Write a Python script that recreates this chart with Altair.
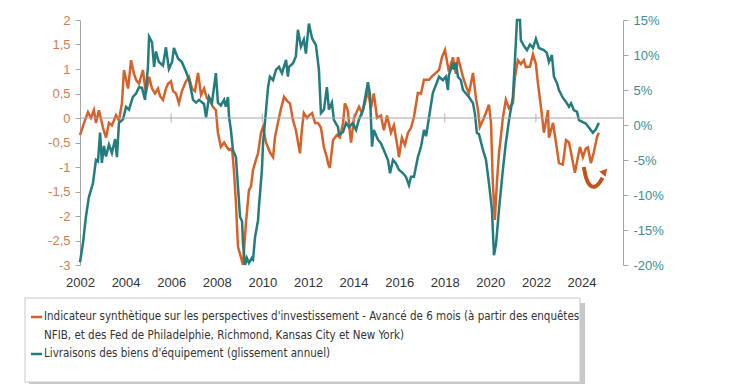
import altair as alt
import pandas as pd

# ---------------- data ----------------
# Orange: composite indicator of investment intentions (left axis), advanced 6 months
o_years = [
    2002.00, 2002.18, 2002.35, 2002.48, 2002.61, 2002.70, 2002.83, 2003.01, 2003.14, 2003.27,
    2003.40, 2003.58, 2003.71, 2003.84, 2003.93, 2004.11, 2004.24, 2004.37, 2004.46, 2004.59,
    2004.76, 2004.89, 2005.03, 2005.16, 2005.29, 2005.42, 2005.51, 2005.64, 2005.77, 2005.86,
    2005.99, 2006.08, 2006.21, 2006.34, 2006.47, 2006.65, 2006.78, 2006.91, 2007.04, 2007.18,
    2007.31, 2007.44, 2007.57, 2007.70, 2007.83, 2007.96, 2008.05, 2008.18, 2008.32, 2008.45,
    2008.54, 2008.67, 2008.75, 2008.84, 2008.93, 2009.06, 2009.15, 2009.28, 2009.41, 2009.50,
    2009.59, 2009.72, 2009.81, 2009.94, 2010.03, 2010.16, 2010.33, 2010.47, 2010.55, 2010.68,
    2010.82, 2010.95, 2011.08, 2011.21, 2011.34, 2011.47, 2011.65, 2011.74, 2011.82, 2011.96,
    2012.04, 2012.18, 2012.31, 2012.44, 2012.57, 2012.70, 2012.83, 2012.88, 2012.96, 2013.10,
    2013.27, 2013.40, 2013.54, 2013.62, 2013.75, 2013.84, 2013.89, 2014.02, 2014.24, 2014.37,
    2014.50, 2014.63, 2014.76, 2014.89, 2015.03, 2015.20, 2015.33, 2015.47, 2015.64, 2015.77,
    2015.95, 2015.99, 2016.12, 2016.25, 2016.39, 2016.52, 2016.65, 2016.82, 2016.96, 2017.09,
    2017.31, 2017.44, 2017.61, 2017.75, 2017.88, 2018.01, 2018.18, 2018.36, 2018.49, 2018.58,
    2018.80, 2018.93, 2019.06, 2019.24, 2019.37, 2019.46, 2019.54, 2019.72, 2019.94, 2020.03,
    2020.11, 2020.20, 2020.29, 2020.38, 2020.55, 2020.68, 2020.82, 2020.99, 2021.08, 2021.21,
    2021.34, 2021.47, 2021.56, 2021.74, 2021.87, 2022.00, 2022.09, 2022.22, 2022.35, 2022.53,
    2022.57, 2022.75, 2022.88, 2023.01, 2023.18, 2023.32, 2023.45, 2023.58, 2023.71, 2023.84,
    2023.93, 2024.06, 2024.19, 2024.28, 2024.41, 2024.54, 2024.68, 2024.76,
]
o_vals = [
    -0.35, -0.10, 0.12, 0.00, 0.16, -0.10, 0.16, -0.20, -0.40, -0.10,
    -0.15, 0.06, -0.05, 0.30, 0.98, 0.60, 1.18, 0.90, 0.78, 0.70,
    0.98, 0.50, 0.84, 0.60, 0.50, 0.60, 0.45, 0.37, 0.60, 0.70,
    0.75, 0.55, 0.50, 0.30, 0.55, 0.75, 0.84, 0.60, 0.55, 0.92,
    0.47, 0.60, 0.40, 0.35, 0.23, 0.16, -0.30, -0.59, -0.50, -0.60,
    -0.65, -0.62, -1.06, -1.73, -2.63, -2.84, -3.00, -2.14, -1.47, -1.40,
    -1.06, -0.85, -0.72, -0.30, -0.18, -0.50, -0.70, -0.80, -0.40, -0.10,
    0.20, 0.43, 0.35, 0.30, -0.04, -0.25, -0.72, -0.20, 0.10, 0.00,
    0.05, 0.10, -0.10, -0.10, -0.20, -0.60, -0.80, -0.92, -1.02, -0.45,
    -0.35, -0.40, -0.10, 0.30, 0.15, -0.30, -0.50, 0.00, 0.23, 0.10,
    0.30, 0.57, 0.20, 0.50, 0.00, 0.05, -0.25, 0.05, -0.30, -0.15,
    -0.65, -0.80, -0.40, -0.55, -0.30, -0.20, 0.02, 0.51, 0.50, 0.78,
    0.78, 0.85, 0.92, 0.98, 1.24, 1.39, 0.95, 1.24, 0.90, 1.24,
    0.84, 0.65, 0.50, 0.92, 0.40, 0.16, -0.18, 0.00, 0.27, -0.10,
    -1.33, -2.08, -1.30, -0.72, 0.00, 0.37, 0.20, 0.30, 0.84, 1.18,
    1.10, 1.18, 1.04, 1.05, 1.30, 1.10, 0.70, 0.23, -0.30, 0.16,
    -0.40, -0.10, -0.50, -0.92, -0.95, -0.45, -0.50, -0.80, -1.12, -0.80,
    -0.59, -0.80, -0.62, -0.60, -0.92, -0.70, -0.39, -0.30,
]

# Teal: capital goods shipments, % y/y (right axis)
t_years = [
    2002.00, 2002.13, 2002.26, 2002.39, 2002.57, 2002.70, 2002.79, 2002.88, 2002.96, 2003.05,
    2003.14, 2003.27, 2003.40, 2003.54, 2003.62, 2003.71, 2003.89, 2004.02, 2004.15, 2004.32,
    2004.46, 2004.59, 2004.72, 2004.85, 2004.98, 2005.03, 2005.16, 2005.25, 2005.33, 2005.46,
    2005.64, 2005.77, 2005.90, 2006.04, 2006.12, 2006.30, 2006.47, 2006.65, 2006.78, 2006.96,
    2007.09, 2007.22, 2007.44, 2007.53, 2007.66, 2007.79, 2007.96, 2008.05, 2008.18, 2008.32,
    2008.40, 2008.49, 2008.54, 2008.62, 2008.71, 2008.84, 2008.97, 2009.02, 2009.11, 2009.15,
    2009.24, 2009.32, 2009.41, 2009.54, 2009.59, 2009.68, 2009.81, 2009.85, 2009.98, 2010.03,
    2010.16, 2010.25, 2010.33, 2010.47, 2010.60, 2010.73, 2010.86, 2011.04, 2011.12, 2011.17,
    2011.34, 2011.47, 2011.56, 2011.69, 2011.82, 2011.91, 2012.04, 2012.18, 2012.26, 2012.35,
    2012.48, 2012.57, 2012.70, 2012.83, 2012.92, 2013.05, 2013.14, 2013.32, 2013.36, 2013.54,
    2013.67, 2013.80, 2013.97, 2014.11, 2014.24, 2014.41, 2014.63, 2014.72, 2014.81, 2014.89,
    2015.07, 2015.20, 2015.33, 2015.51, 2015.60, 2015.73, 2015.86, 2015.99, 2016.17, 2016.30,
    2016.43, 2016.52, 2016.65, 2016.82, 2016.96, 2017.09, 2017.18, 2017.31, 2017.48, 2017.66,
    2017.75, 2017.92, 2018.05, 2018.14, 2018.18, 2018.36, 2018.40, 2018.49, 2018.58, 2018.71,
    2018.80, 2018.93, 2019.06, 2019.24, 2019.32, 2019.41, 2019.50, 2019.68, 2019.81, 2019.94,
    2020.07, 2020.16, 2020.25, 2020.38, 2020.55, 2020.68, 2020.82, 2020.99, 2021.08, 2021.17,
    2021.30, 2021.34, 2021.47, 2021.61, 2021.74, 2021.87, 2022.00, 2022.13, 2022.35, 2022.48,
    2022.57, 2022.70, 2022.79, 2022.92, 2023.01, 2023.18, 2023.32, 2023.45, 2023.54, 2023.67,
    2023.80, 2023.89, 2024.06, 2024.19, 2024.33, 2024.50, 2024.63, 2024.76,
]
t_vals = [
    -19.6, -16.9, -13.1, -10.3, -8.3, -5.0, -5.2, -1.1, -5.4, -3.0,
    -4.5, -2.8, -4.0, -2.0, -4.6, 0.3, 0.8, 2.6, 2.2, 4.0,
    4.5, 5.4, 5.3, 3.6, 8.3, 12.6, 11.8, 8.3, 10.5, 9.0,
    8.5, 11.1, 8.0, 9.0, 11.0, 9.5, 9.0, 7.6, 6.5, 3.6,
    3.2, 3.6, 3.0, 1.1, 4.0, 3.2, 7.4, 3.2, 2.8, 3.6,
    2.6, 4.0, 1.1, -0.7, -3.6, -4.6, -10.7, -13.1, -13.8, -16.9,
    -20.0, -19.0, -19.7, -19.0, -19.2, -16.0, -13.6, -11.7, -6.4, -2.6,
    2.1, 5.4, 6.9, 6.4, 7.9, 8.3, 7.4, 9.3, 6.9, 8.3,
    8.8, 9.8, 13.6, 11.2, 12.2, 10.2, 14.5, 12.4, 11.9, 11.4,
    7.9, 1.7, 2.2, 5.4, 2.2, 3.2, 0.7, -0.3, -1.4, -1.0,
    0.3, -0.3, 0.3, -0.7, 0.8, 2.1, 6.1, 4.4, -3.1, -0.7,
    -2.1, -2.6, -3.6, -5.0, -6.9, -5.0, -5.5, -6.4, -6.9, -7.4,
    -8.6, -7.4, -7.4, -4.6, -3.1, -0.7, -1.6, 1.1, 4.6, 6.1,
    6.9, 6.4, 6.9, 5.0, 7.1, 8.9, 7.9, 8.9, 6.9, 6.4,
    5.0, 4.5, 4.0, 3.1, 1.7, -1.1, -1.3, -3.6, -5.0, -8.3,
    -12.1, -18.6, -17.0, -12.1, -6.4, -2.6, 0.7, 4.0, 9.3, 15.0,
    15.0, 12.1, 11.3, 10.7, 11.5, 11.0, 12.3, 11.0, 10.7, 10.3,
    9.0, 10.0, 6.9, 6.0, 5.0, 3.9, 3.3, 2.6, 3.1, 2.1,
    1.9, 0.7, 0.4, 0.2, -0.4, -1.1, -0.6, 0.3,
]

# curved "rebound" arrow annotation (left-axis units)
arrow_years = [2024.10, 2024.20, 2024.35, 2024.55, 2024.75, 2024.92]
arrow_vals = [-1.00, -1.25, -1.38, -1.42, -1.36, -1.22]
arrow_head = [2025.02, -1.09]

x_label_years = [2002, 2004, 2006, 2008, 2010, 2012, 2014, 2016, 2018, 2020, 2022, 2024]
zero_tick_years = [2006, 2010, 2014, 2018, 2022]
left_ticks = [-3, -2.5, -2, -1.5, -1, -0.5, 0, 0.5, 1, 1.5, 2]
right_ticks = [-20, -15, -10, -5, 0, 5, 10, 15]

legend_orange = "Indicateur synthètique sur les perspectives d'investissement - Avancé de 6 mois (à partir des enquêtes"
legend_orange2 = "NFIB, et des Fed de Philadelphie, Richmond, Kansas City et New York)"
legend_teal = "Livraisons des biens d'équipement (glissement annuel)"

# ---------------- styling ----------------
W, H = 543, 245
ORANGE = "#d6622a"
TEAL = "#237c7d"
ARROW = "#bf5420"
AXIS_GREY = "#a6a6a6"
FONT = "Liberation Sans"
NARROW = "DejaVu Sans Condensed, DejaVu Sans, sans-serif"

xs = alt.Scale(domain=[2002, 2025.82], nice=False, zero=False)
ys_l = alt.Scale(domain=[-3, 2], nice=False, zero=False)
ys_r = alt.Scale(domain=[-20, 15], nice=False, zero=False)

df_o = pd.DataFrame({"year": o_years, "v": o_vals})
df_t = pd.DataFrame({"year": t_years, "v": t_vals})
df_arrow = pd.DataFrame({"year": arrow_years, "v": arrow_vals})
df_head = pd.DataFrame({"year": [arrow_head[0]], "v": [arrow_head[1]]})
one = pd.DataFrame({"a": [0]})

x_axis = alt.Axis(values=x_label_years, format="d", domain=False, ticks=False, tickSize=0,
                  grid=False, labelPadding=11, labelFontSize=13, labelColor="#333333",
                  labelFont=FONT, labelFlush=False, labelOverlap=False, title=None)
X = alt.X("year:Q", scale=xs, axis=x_axis)

orange = alt.Chart(df_o).mark_line(color=ORANGE, strokeWidth=2.5).encode(
    x=X,
    y=alt.Y("v:Q", scale=ys_l, axis=alt.Axis(
        orient="left", values=left_ticks, title=None, grid=False,
        labelExpr="replace(toString(datum.value), '.', ',')",
        domainColor=AXIS_GREY, tickColor=AXIS_GREY, tickSize=5, labelPadding=5,
        labelColor="#cf7f50", labelFontSize=13, labelFont=FONT,
        labelFlush=False, labelOverlap=False)),
)

teal = alt.Chart(df_t).mark_line(color=TEAL, strokeWidth=2.5).encode(
    x=X,
    y=alt.Y("v:Q", scale=ys_r, axis=alt.Axis(
        orient="right", values=right_ticks, title=None, grid=False,
        labelExpr="toString(datum.value) + '%'",
        domainColor=AXIS_GREY, tickColor=AXIS_GREY, tickSize=5, labelPadding=5,
        labelColor="#3a8f8f", labelFontSize=13, labelFont=FONT,
        labelFlush=False, labelOverlap=False)),
)

zero_rule = alt.Chart(pd.DataFrame({"z": [0]})).mark_rule(color=AXIS_GREY, strokeWidth=1.2).encode(
    y=alt.Y("z:Q", scale=ys_l, axis=None),
)

zero_ticks = alt.Chart(pd.DataFrame({"year": zero_tick_years, "z": [0] * len(zero_tick_years)})).mark_tick(
    orient="vertical", size=9, thickness=1.2, color=AXIS_GREY).encode(
    x=X,
    y=alt.Y("z:Q", scale=ys_l, axis=None),
)

arrow_line = alt.Chart(df_arrow).mark_line(color=ARROW, strokeWidth=4, interpolate="basis").encode(
    x=X,
    y=alt.Y("v:Q", scale=ys_l, axis=None),
)
arrow_tip = alt.Chart(df_head).mark_point(shape="triangle-up", filled=True, size=70, angle=40,
                                          color=ARROW, opacity=1).encode(
    x=X,
    y=alt.Y("v:Q", scale=ys_l, axis=None),
)

# ---------------- legend box (below the plot) ----------------
box_shadow = alt.Chart(one).mark_rect(color="#9a9a9a", opacity=0.55).encode(
    x=alt.value(-51), x2=alt.value(505), y=alt.value(283), y2=alt.value(367))
box = alt.Chart(one).mark_rect(fill="white", stroke="#c8c8c8", strokeWidth=1).encode(
    x=alt.value(-55), x2=alt.value(500), y=alt.value(278), y2=alt.value(362))
dash_o = alt.Chart(one).mark_rule(color=ORANGE, strokeWidth=2.5).encode(
    x=alt.value(-49), x2=alt.value(-38), y=alt.value(297))
dash_t = alt.Chart(one).mark_rule(color=TEAL, strokeWidth=2.5).encode(
    x=alt.value(-49), x2=alt.value(-38), y=alt.value(334))
txt_style = dict(align="left", baseline="middle", font=NARROW, fontSize=11.5, color="#333333")
txt1 = alt.Chart(one).mark_text(**txt_style).encode(
    x=alt.value(-36), y=alt.value(297), text=alt.value(legend_orange))
txt2 = alt.Chart(one).mark_text(**txt_style).encode(
    x=alt.value(-36), y=alt.value(316), text=alt.value(legend_orange2))
txt3 = alt.Chart(one).mark_text(**txt_style).encode(
    x=alt.value(-36), y=alt.value(334), text=alt.value(legend_teal))

chart = alt.layer(
    orange, teal, zero_rule, zero_ticks, arrow_line, arrow_tip,
    box_shadow, box, dash_o, dash_t, txt1, txt2, txt3,
).resolve_scale(
    y="independent"
).properties(
    width=W, height=H,
    padding={"left": 72, "top": 12, "right": 108, "bottom": 119},
    autosize=alt.AutoSizeParams(type="none"),
).configure_view(
    strokeWidth=0
).configure_axis(
    grid=False
)

chart.save("out.html", embed_options={"renderer": "svg", "actions": False})
